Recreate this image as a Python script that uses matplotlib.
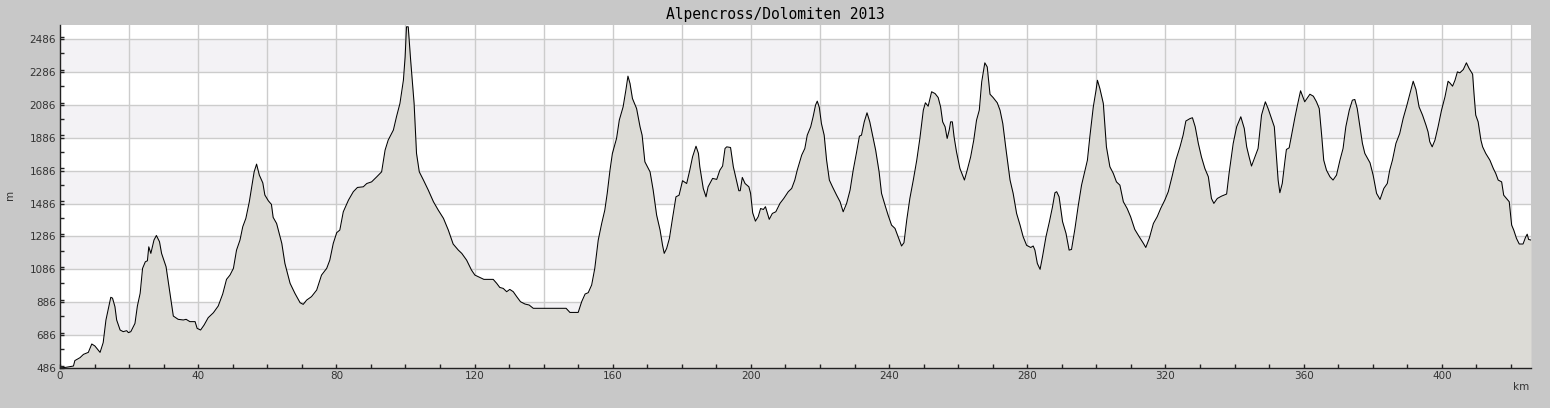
import matplotlib
matplotlib.use('Agg')
import matplotlib.pyplot as plt
from matplotlib.ticker import MultipleLocator

# elevation profile (km, m)
km = [0, 1.7, 3.9, 4.3, 5.8, 6.8, 8.2, 9.2, 10.1, 11.6, 12.5, 13.3, 14.7, 15.2, 15.9,
      16.4, 17.4, 18.3, 19.3, 19.8, 20.5, 21.7, 22.4, 23.2, 23.9, 24.7, 25.3, 25.7, 26.3,
      27.2, 27.9, 28.8, 29.4, 30.7, 31.4, 32.1, 32.8, 34.2, 35.7, 36.5, 37.6, 39.1, 39.7,
      40.7, 41.7, 42.9, 44.4, 45.8, 47.1, 48.2, 49.2, 50.2, 51.1, 52.1, 52.9, 53.8, 54.8,
      55.5, 56.2, 56.9, 57.7, 58.7, 59.3, 60.3, 61.2, 61.7, 62.7,
      64.2, 65.1, 66.6, 68.0, 69.5, 70.4, 71.4, 72.8, 74.3, 75.7, 77.2, 78.1, 79.1, 80.1,
      81.0, 82.0, 83.5, 84.9, 86.1, 87.8, 88.8, 90.2, 91.7, 93.1, 94.1, 95.0, 96.5, 97.4,
      98.4, 99.4, 99.9, 100.3, 100.8, 101.5, 102.5, 103.2, 104.0, 105.2, 106.6, 108.1,
      109.5, 111.0, 112.4, 113.8, 115.3, 116.3, 117.7, 119.1, 120.1,
      122.7, 125.4, 126.4, 127.3, 128.3, 129.3, 130.2, 131.2, 132.2, 133.3, 134.6, 135.8,
      137.0, 140.9, 146.5, 147.6, 150.0, 151.0, 152.0, 152.9, 153.9, 154.8, 155.8, 156.8,
      157.7, 158.4, 159.2, 159.9, 161.1, 161.9, 163.0, 163.8, 164.4, 165.0, 165.7, 166.9,
      167.9, 168.5, 169.3, 170.8, 171.7, 172.7, 173.7, 174.4, 174.9, 175.6, 176.4, 177.3,
      178.3, 179.2, 180.2, 181.4, 182.3, 183.1, 184.1, 184.8, 185.2,
      186.2, 187.0, 187.6, 188.9, 190.1, 191.0, 191.8, 192.5, 193.0, 194.1, 194.9, 195.8,
      196.5, 196.9, 197.5, 198.3, 199.4, 199.9, 200.5, 201.3, 202.1, 202.8, 203.6, 204.2,
      205.3, 206.2, 207.2, 208.4, 209.5, 210.8, 211.8, 212.7, 213.4, 214.7, 215.6, 216.3,
      217.3, 218.0, 218.7, 219.2, 219.8, 220.4, 221.2, 221.9, 222.7, 223.6, 224.8, 225.8,
      226.7, 227.7, 228.7, 229.6, 230.6, 231.4, 232.0, 232.8, 233.6, 234.4, 235.2, 236.1,
      237.1, 237.8, 238.8, 239.7, 240.7, 241.7, 242.6, 243.6, 244.3,
      245.1, 246.0, 247.0, 248.0, 248.9, 249.9, 250.5, 251.3, 252.3, 253.3, 254.2, 254.9,
      255.5, 256.2, 256.8, 257.4, 257.8, 258.3, 258.8, 259.5, 260.5, 261.8, 262.6, 263.6,
      264.5, 265.3, 266.1, 266.8, 267.7, 268.4, 269.2, 270.1, 271.3, 272.1, 272.9, 273.8,
      275.0, 275.9, 276.9, 277.9, 278.8, 279.8, 281.0, 281.7, 282.2, 282.9, 283.7, 284.4,
      285.4, 286.4, 287.3, 288.0, 288.5, 289.2, 290.2, 291.2, 292.1, 292.8, 293.8, 294.7,
      295.7, 296.7, 297.4, 298.1, 299.1, 299.9, 300.3, 301.0, 302.0, 302.9, 303.9, 304.9,
      305.8, 306.8,
      307.8, 308.9, 309.9, 311.1, 312.4, 313.6, 314.3, 315.3, 316.5, 317.6, 318.6, 319.8,
      320.8, 322.0, 323.0, 324.2, 325.1, 325.9, 327.1, 327.8, 328.6, 329.5, 330.4, 331.4,
      332.4, 333.3, 334.0, 335.0, 336.2, 337.7, 338.4, 339.6, 340.6, 341.8, 342.8, 343.5,
      344.2, 344.9, 345.9, 346.8, 347.8, 348.9, 349.7, 350.7, 351.5, 352.2, 352.6, 353.1,
      353.8, 354.6, 355.0, 355.8, 356.5, 357.5, 358.2, 359.1,
      360.3, 361.8, 362.8, 363.7, 364.5, 365.2, 365.8, 366.6, 367.6, 368.5, 369.5, 370.5,
      371.4, 372.2, 373.2, 374.1, 374.8, 375.5, 376.3, 377.0, 377.7, 379.2, 380.1, 381.1,
      382.1, 383.2, 384.2, 384.9, 385.7, 386.7, 387.8, 388.8, 389.8, 390.7, 391.7, 392.5,
      393.4, 394.4, 395.4, 396.0, 396.5, 397.2, 398.0, 398.9, 399.9, 400.9, 401.8, 402.3,
      403.1, 403.8, 404.5, 405.2, 406.2, 407.1, 407.9, 408.9, 409.3, 409.8, 410.5, 411.3,
      411.8, 412.7, 413.9, 414.9, 415.6, 416.3, 417.3, 417.9, 418.7, 419.5, 420.2, 420.8,
      421.6, 422.4, 423.5, 424.2, 424.7, 425.1, 425.8]

elev = [486, 490, 498, 531, 549, 569, 581, 632, 620, 581, 640, 778, 916, 911, 859,
        778, 717, 707, 713, 701, 707, 757, 863, 940, 1092, 1132, 1138, 1223, 1183,
        1264, 1292, 1254, 1183, 1102, 1001, 900, 802, 782, 778, 782, 768, 768, 727,
        717, 747, 792, 822, 863, 936, 1025, 1051, 1092, 1203, 1264, 1345, 1396, 1497,
        1588, 1679, 1726, 1659, 1612, 1538, 1503, 1481, 1402, 1365,
        1244, 1122, 1001, 940, 883, 873, 899, 920, 960, 1051, 1092, 1142, 1244, 1309,
        1325, 1436, 1507, 1558, 1584, 1588, 1608, 1618, 1649, 1679, 1811, 1872, 1933, 2014,
        2095, 2236, 2378, 2561, 2561, 2358, 2095, 1791, 1679, 1629, 1568, 1497,
        1446, 1396, 1325, 1240, 1203, 1183, 1142, 1082, 1051,
        1025, 1025, 1001, 976, 970, 950, 964, 950, 920, 889, 875, 869,
        849, 849, 849, 824, 824, 889, 936, 944, 991, 1092, 1264, 1365,
        1446, 1548, 1689, 1791, 1882, 1994, 2074, 2176, 2261, 2216, 2125, 2064,
        1953, 1902, 1740, 1679, 1568, 1416, 1325, 1234, 1183, 1213, 1274, 1396,
        1527, 1537, 1625, 1608, 1689, 1770, 1835, 1791, 1710,
        1578, 1527, 1588, 1639, 1633, 1689, 1714, 1821, 1831, 1827, 1710, 1629,
        1564, 1564, 1645, 1608, 1588, 1548, 1430, 1379, 1406, 1456, 1450, 1467,
        1390, 1426, 1436, 1487, 1517, 1558, 1578, 1629, 1689, 1781, 1821, 1902,
        1953, 2014, 2085, 2109, 2070, 1973, 1902, 1750, 1629, 1588, 1537, 1497,
        1436, 1487, 1568, 1689, 1801, 1896, 1902, 1983, 2038, 1983, 1902, 1811,
        1679, 1548, 1477, 1416, 1355, 1335, 1284, 1228, 1248,
        1386, 1517, 1629, 1750, 1882, 2054, 2099, 2078, 2166, 2155, 2131, 2074,
        1983, 1953, 1882, 1933, 1983, 1983, 1892, 1801, 1699, 1629, 1689, 1770,
        1872, 1993, 2054, 2226, 2342, 2317, 2151, 2131, 2099, 2054, 1973, 1821,
        1629, 1548, 1426, 1355, 1284, 1232, 1219, 1228, 1203, 1122, 1086, 1163,
        1284, 1376, 1467, 1552, 1558, 1527, 1376, 1305, 1203, 1207, 1335, 1467,
        1598, 1689, 1750, 1892, 2074, 2176, 2236, 2186, 2095, 1831, 1710, 1669,
        1618, 1598,
        1497, 1456, 1406, 1329, 1284, 1244, 1219, 1274, 1365, 1406, 1456, 1507,
        1558, 1659, 1750, 1831, 1902, 1988, 2003, 2008, 1953, 1852, 1770, 1699,
        1649, 1517, 1487, 1517, 1531, 1544, 1669, 1852, 1953, 2014, 1943, 1831,
        1770, 1714, 1770, 1821, 2024, 2105, 2064, 2003, 1953, 1750, 1629, 1552,
        1608, 1750, 1815, 1825, 1902, 2014, 2085, 2172,
        2105, 2151, 2139, 2105, 2064, 1902, 1750, 1689, 1649, 1629, 1659, 1750,
        1821, 1953, 2054, 2115, 2119, 2064, 1953, 1852, 1791, 1734, 1659, 1548,
        1511, 1578, 1608, 1689, 1750, 1852, 1912, 2004, 2078, 2151, 2230, 2180,
        2074, 2024, 1963, 1922, 1862, 1831, 1872, 1953, 2054, 2135, 2230, 2220,
        2200, 2236, 2287, 2281, 2301, 2342, 2307, 2273, 2155, 2024, 1983, 1872,
        1831, 1791, 1750, 1699, 1669, 1629, 1618, 1537, 1517, 1497, 1355, 1325,
        1274, 1240, 1240, 1280, 1300, 1268, 1264]

title = "Alpencross/Dolomiten 2013"
y_ticks = list(range(486, 2487, 200))
x_ticks = list(range(0, 401, 40))

fig = plt.figure(figsize=(15.5, 4.08), dpi=100, facecolor='#c8c8c8')
ax = fig.add_axes([60 / 1550, 1 - 368 / 408, (1531 - 60) / 1550, (368 - 25) / 408])
ax.set_facecolor('white')

x_max = 425.8
y_min, y_max = 486, 2572
ax.set_xlim(0, x_max)
ax.set_ylim(y_min, y_max)

# alternating horizontal bands
for i, lo in enumerate(y_ticks[:-1]):
    if i % 2 == 1:
        ax.axhspan(lo, lo + 200, color='#f3f2f5', zorder=0, lw=0)

for v in y_ticks[1:]:
    ax.axhline(v, color='#cccccc', lw=1, zorder=0.5)
for v in range(20, 421, 20):
    ax.axvline(v, color='#cccccc', lw=1, zorder=0.5)

ax.fill_between(km, elev, y_min, color='#dcdbd6', lw=0, zorder=1)
ax.plot(km, elev, color='black', lw=0.75, zorder=2)

ax.set_yticks(y_ticks)
ax.set_xticks(x_ticks)
ax.yaxis.set_minor_locator(MultipleLocator(100))
ax.xaxis.set_minor_locator(MultipleLocator(10))
ax.tick_params(which='both', direction='in', length=3, width=1, color='#222222',
               labelsize=7.5, labelcolor='#333333', pad=3)
ax.tick_params(axis='x', which='major', pad=2)

for side in ('top', 'right'):
    ax.spines[side].set_visible(False)
for side in ('left', 'bottom'):
    ax.spines[side].set_color('#222222')
    ax.spines[side].set_linewidth(1)

fig.text(10 / 1550, 1 - 195 / 408, 'm', rotation=90, ha='center', va='center',
         fontsize=7.5, color='#333333')
fig.text(1521 / 1550, 1 - 387 / 408, 'km', ha='center', va='center',
         fontsize=7.5, color='#333333')
fig.text(0.5, 1 - 14 / 408, title, ha='center', va='center',
         fontsize=10.5, family='DejaVu Sans Mono', color='black')

fig.savefig('out.png', dpi=100, facecolor=fig.get_facecolor())
